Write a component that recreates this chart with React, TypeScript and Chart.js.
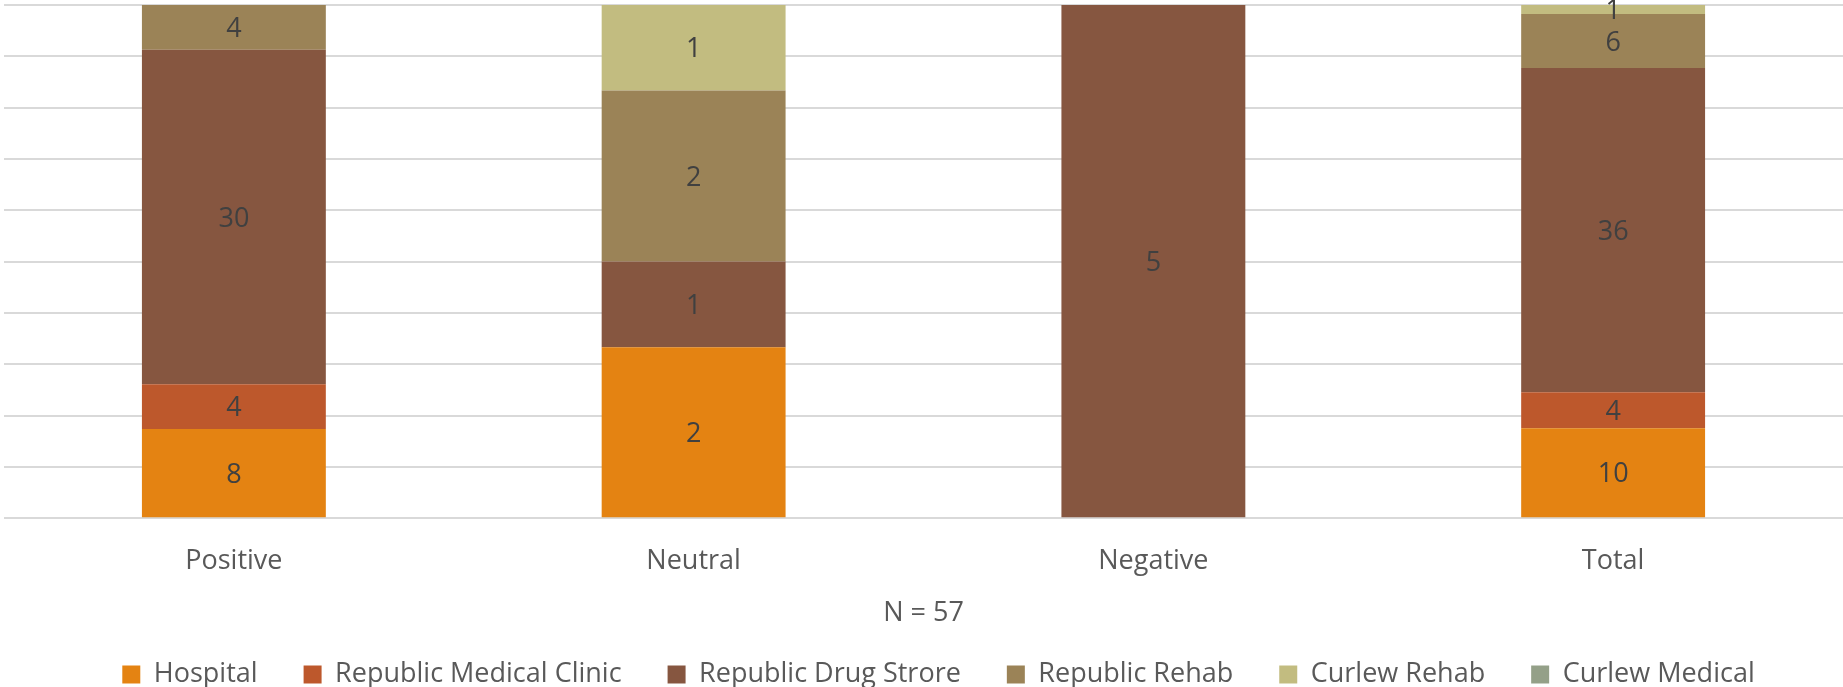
import React, { useEffect, useRef } from "react";
import { Chart, registerables } from "chart.js";

Chart.register(...registerables);

const categories = ["Positive", "Neutral", "Negative", "Total"];
const hospital = [8, 2, 0, 10];
const republicMedicalClinic = [4, 0, 0, 4];
const republicDrugStrore = [30, 1, 5, 36];
const republicRehab = [4, 2, 0, 6];
const curlewRehab = [0, 1, 0, 1];
const curlewMedical = [0, 0, 0, 0];
const seriesNames = [
  "Hospital",
  "Republic Medical Clinic",
  "Republic Drug Strore",
  "Republic Rehab",
  "Curlew Rehab",
  "Curlew Medical",
];
const seriesColors = ["#E48312", "#BD582C", "#865640", "#9B8357", "#C2BC80", "#94A088"];
const axisTitle = "N = 57";
const yTicks = [0, 10, 20, 30, 40, 50, 60, 70, 80, 90, 100];

const FONT = "'Open Sans', 'Noto Sans', sans-serif";

export default function App() {
  const ref = useRef<HTMLCanvasElement | null>(null);

  useEffect(() => {
    if (!ref.current) return;
    const allSeries = [hospital, republicMedicalClinic, republicDrugStrore, republicRehab, curlewRehab, curlewMedical];
    const totals = categories.map((_, i) => allSeries.reduce((s, arr) => s + arr[i], 0));

    const labelPlugin = {
      id: "segLabels",
      afterDatasetsDraw(chart: any) {
        const ctx = chart.ctx;
        ctx.save();
        ctx.font = `27px ${FONT}`;
        ctx.fillStyle = "#404040";
        ctx.textAlign = "center";
        ctx.textBaseline = "middle";
        chart.data.datasets.forEach((ds: any, di: number) => {
          const meta = chart.getDatasetMeta(di);
          meta.data.forEach((el: any, i: number) => {
            const c = ds.counts[i];
            if (!c) return;
            const y = (el.y + el.base) / 2 + 2;
            ctx.fillText(String(c), el.x, y);
          });
        });
        ctx.restore();
      },
    };

    const legendShift = {
      id: "legendShift",
      afterLayout(chart: any) {
        if (chart.legend) {
          chart.legend.left += 15;
          chart.legend.right += 15;
        }
      },
    };

    const chart = new Chart(ref.current, {
      type: "bar",
      data: {
        labels: categories,
        datasets: allSeries.map((arr, k) => ({
          label: seriesNames[k],
          data: arr.map((v, i) => (v / totals[i]) * 100),
          counts: arr,
          backgroundColor: seriesColors[k],
          borderWidth: 0,
          barPercentage: 0.4,
          categoryPercentage: 1.0,
        })) as any,
      },
      options: {
        animation: false,
        responsive: true,
        maintainAspectRatio: false,
        layout: { padding: { left: 4, right: 0, top: 5, bottom: -11 } },
        plugins: {
          tooltip: { enabled: false },
          legend: {
            position: "bottom",
            labels: {
              boxWidth: 18,
              boxHeight: 18,
              padding: 46,
              color: "#595959",
              font: { size: 27, family: FONT },
            },
          },
        },
        scales: {
          x: {
            stacked: true,
            grid: { display: false, drawTicks: false },
            border: { display: false },
            ticks: { color: "#595959", font: { size: 27, family: FONT }, padding: 27 },
            title: {
              display: true,
              text: axisTitle,
              color: "#595959",
              font: { size: 27, family: FONT },
              padding: { top: -7, bottom: -15 },
            },
          },
          y: {
            stacked: true,
            min: 0,
            max: 100,
            afterBuildTicks: (axis: any) => {
              axis.ticks = yTicks.map((v) => ({ value: v }));
            },
            ticks: { display: false },
            grid: { color: "#d9d9d9", lineWidth: 2, drawTicks: false },
            border: { display: false },
          },
        },
      },
      plugins: [labelPlugin, legendShift],
    });
    return () => chart.destroy();
  }, []);

  return (
    <div style={{ position: "fixed", left: 0, top: 0, width: 1843, height: 687, background: "#fff" }}>
      <canvas ref={ref} />
    </div>
  );
}
